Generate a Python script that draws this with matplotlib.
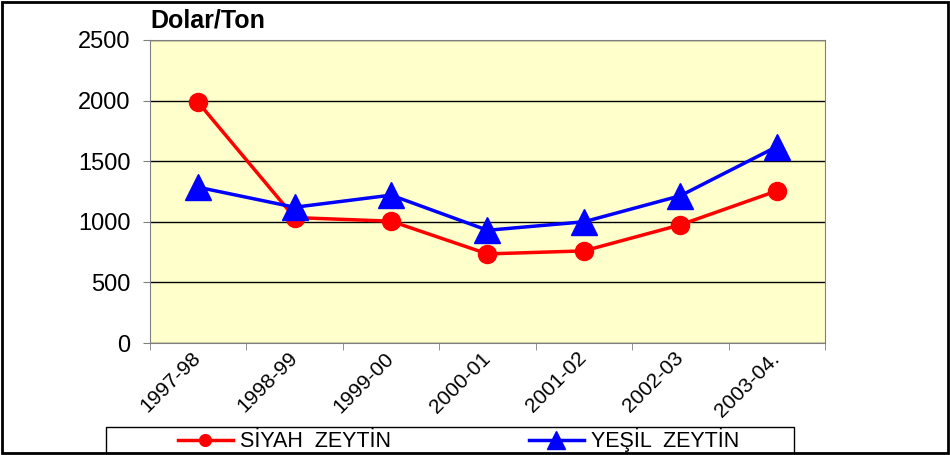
import matplotlib.pyplot as plt
from matplotlib.patches import Rectangle
from matplotlib.transforms import ScaledTranslation

seasons = ["1997-98", "1998-99", "1999-00", "2000-01", "2001-02", "2002-03", "2003-04."]
siyah = [1985, 1035, 1005, 735, 760, 975, 1255]
yesil = [1285, 1120, 1220, 930, 1000, 1215, 1620]
yticks = [0, 500, 1000, 1500, 2000, 2500]

plt.rcParams['font.family'] = ['Liberation Sans', 'DejaVu Sans']

fig = plt.figure(figsize=(9.5, 4.55), dpi=100)
ax = fig.add_axes([150/950, 1 - 343/455, 675/950, 303/455])
ax.set_facecolor("#FFFFCC")

x = list(range(len(seasons)))
ax.plot(x, siyah, color="#FF0000", lw=2.5, marker="o", markersize=13,
        label="SİYAH  ZEYTİN", zorder=3)
ax.plot(x, yesil, color="#0000FF", lw=2.5, marker="^", markersize=19,
        label="YEŞİL  ZEYTİN", zorder=4)

ax.set_xlim(-0.5, len(seasons) - 0.5)
ax.set_ylim(0, 2500)
ax.set_yticks(yticks)
ax.set_yticklabels([str(v) for v in yticks], fontsize=17)
ax.yaxis.grid(True, color="black", lw=1)
ax.set_axisbelow(True)

# labels at centres, tick marks at category boundaries
ax.set_xticks(x)
ax.set_xticklabels(seasons, rotation=45, ha="right", va="top",
                   rotation_mode="anchor", fontsize=15)
ax.tick_params(axis="x", which="major", length=0, pad=4)
shift = ScaledTranslation(-0.07, 0, fig.dpi_scale_trans)
for lab in ax.get_xticklabels():
    lab.set_transform(lab.get_transform() + shift)
ax.set_xticks([i - 0.5 for i in range(len(seasons) + 1)], minor=True)
ax.tick_params(axis="x", which="minor", length=5, color="#808080")
ax.tick_params(axis="y", length=5, color="#808080", pad=9)

for s in ax.spines.values():
    s.set_color("#808080")

fig.text(150/950, 1 - 21/455, "Dolar/Ton", fontsize=18, fontweight="bold",
         va="center", ha="left")

# outer chart border
fig.patches.append(Rectangle((2/950, 2/455), 946/950, 451/455, transform=fig.transFigure,
                             fill=False, edgecolor="black", lw=2))
# legend box
fig.patches.append(Rectangle((106/950, -0.02), (794-106)/950, (455-427)/455 + 0.02,
                             transform=fig.transFigure, fill=False,
                             edgecolor="black", lw=1))
fig.legend(loc="center left", bbox_to_anchor=(178/950, 1 - 440/455), ncol=2,
           frameon=False, fontsize=15.5, handlelength=2.55, handletextpad=0.33,
           columnspacing=6.4, markerscale=0.65, borderpad=0, borderaxespad=0)

fig.savefig("out.png", dpi=100)
